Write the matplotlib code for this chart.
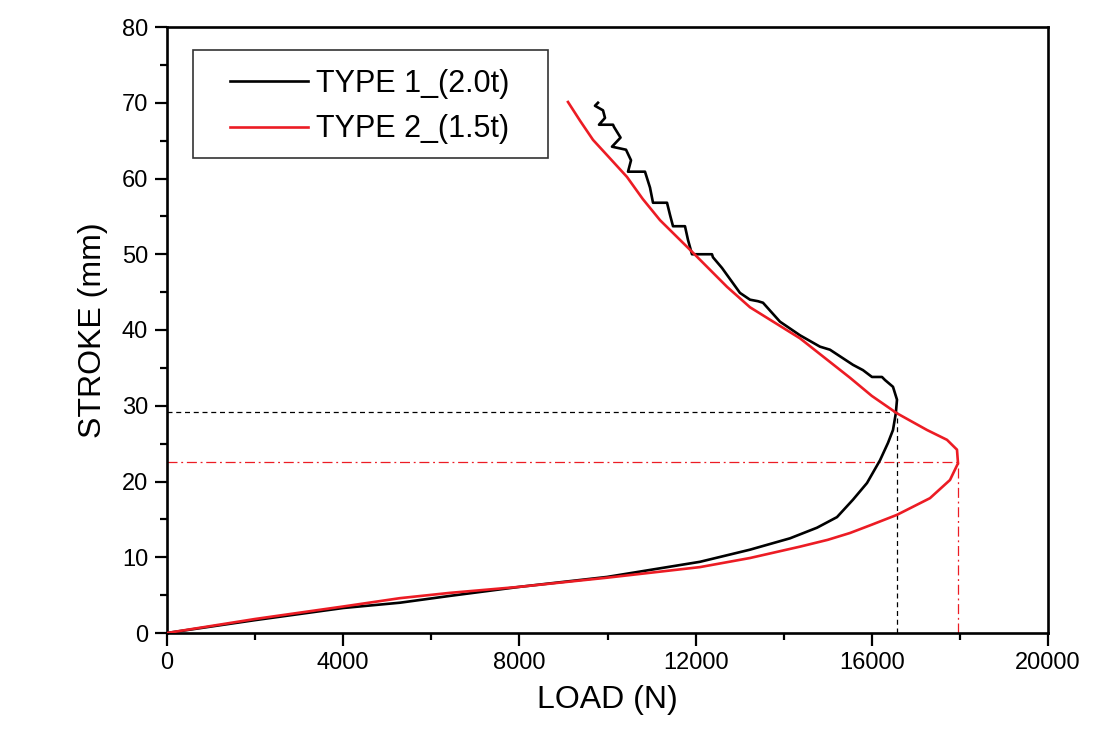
import matplotlib
matplotlib.use("Agg")
import matplotlib.pyplot as plt
from matplotlib.ticker import MultipleLocator
from matplotlib.patches import Rectangle

plt.rcParams['font.family'] = ['Liberation Sans', 'DejaVu Sans']

# TYPE 1_(2.0t): load (N) vs stroke (mm)
type1_load = [0, 2000, 4000, 5290, 6425, 8013, 9988, 12100, 13235, 14143, 14756,
              15210, 15573, 15891, 16186, 16368, 16481, 16545, 16572, 16481, 16299,
              16231, 16004, 15800, 15573, 15050, 14824, 14370, 13915, 13530, 13417,
              13235, 13007, 12598, 12394, 12372, 11918, 11827, 11759, 11487, 11419,
              11351, 11033, 10965, 10851, 10466, 10534, 10420, 10102, 10296, 10148,
              10125, 9807, 9943, 9898, 9716, 9784]
type1_stroke = [0, 1.7, 3.3, 4.0, 4.9, 6.1, 7.4, 9.4, 11.0, 12.5, 13.9,
                15.3, 17.6, 19.8, 22.8, 25.1, 26.8, 29.0, 30.8, 32.5, 33.4,
                33.8, 33.8, 34.7, 35.4, 37.4, 37.8, 39.3, 41.1, 43.6, 43.8,
                44.0, 44.9, 48.2, 49.6, 50.0, 50.0, 51.9, 53.7, 53.7, 55.2,
                56.8, 56.8, 58.8, 60.9, 60.9, 62.4, 63.8, 64.2, 65.4, 66.8,
                67.1, 67.1, 68.0, 69.0, 69.6, 70.0]

# TYPE 2_(1.5t)
type2_load = [0, 2000, 4000, 5290, 6425, 8013, 9988, 12100, 13235, 14370, 15000,
              15504, 16000, 16572, 17321, 17775, 17957, 17934, 17707, 17253, 16572,
              16000, 15504, 14370, 13235, 12713, 11941, 11192, 10800, 10443, 10050,
              9671, 9380, 9103]
type2_stroke = [0, 1.85, 3.5, 4.6, 5.3, 6.1, 7.3, 8.7, 9.9, 11.4, 12.3,
                13.2, 14.3, 15.6, 17.8, 20.2, 22.4, 24.2, 25.5, 26.8, 29.0,
                31.3, 33.7, 38.9, 43.0, 45.7, 50.2, 54.5, 57.3, 60.2, 62.7,
                65.1, 67.6, 70.1]

# reference guide lines
t1_ref_load, t1_ref_stroke = 16572, 29.2
t2_ref_load, t2_ref_stroke = 17950, 22.6

labels = ['TYPE 1_(2.0t)', 'TYPE 2_(1.5t)']
red = '#ec1c24'

W, H = 1117, 747
fig = plt.figure(figsize=(W / 100, H / 100), dpi=100)
ax = fig.add_axes([167/W, 1 - 633/H, (1048-167)/W, (633-27)/H])

ax.plot(type1_load, type1_stroke, color='black', lw=1.9, label=labels[0], zorder=3)
ax.plot(type2_load, type2_stroke, color=red, lw=1.9, label=labels[1], zorder=3)

ax.plot([0, t1_ref_load], [t1_ref_stroke, t1_ref_stroke], color='black', lw=0.9,
        ls=(0, (4, 3)), zorder=2)
ax.plot([t1_ref_load, t1_ref_load], [0, t1_ref_stroke], color='black', lw=0.9,
        ls=(0, (4, 3)), zorder=2)
ax.plot([0, t2_ref_load], [t2_ref_stroke, t2_ref_stroke], color=red, lw=0.9,
        ls=(0, (8, 3, 1.5, 3)), zorder=2)
ax.plot([t2_ref_load, t2_ref_load], [0, t2_ref_stroke], color=red, lw=0.9,
        ls=(0, (8, 3, 1.5, 3)), zorder=2)

ax.set_xlim(0, 20000)
ax.set_ylim(0, 80)
ax.xaxis.set_major_locator(MultipleLocator(4000))
ax.xaxis.set_minor_locator(MultipleLocator(2000))
ax.yaxis.set_major_locator(MultipleLocator(10))
ax.yaxis.set_minor_locator(MultipleLocator(5))

for s in ax.spines.values():
    s.set_linewidth(1.9)
ax.tick_params(which='major', direction='out', length=9, width=1.6, labelsize=17,
               top=False, right=False, pad=4.5)
ax.tick_params(which='minor', direction='out', length=5, width=1.6,
               top=False, right=False)

ax.set_xlabel('LOAD (N)', fontsize=23, labelpad=8)
ax.set_ylabel('STROKE (mm)', fontsize=23, labelpad=10)

leg = fig.legend(*ax.get_legend_handles_labels(), loc='upper left',
                 bbox_to_anchor=(230/W, 1 - 69/H), borderaxespad=0, borderpad=0,
                 fontsize=22, frameon=False, handlelength=2.55,
                 handletextpad=0.25, labelspacing=0.5)
fig.add_artist(Rectangle((193/W, 1 - 158/H), 355/W, 108/H, transform=fig.transFigure,
                         fill=False, edgecolor='#333333', linewidth=1.2))

fig.savefig('out.png', dpi=100)
